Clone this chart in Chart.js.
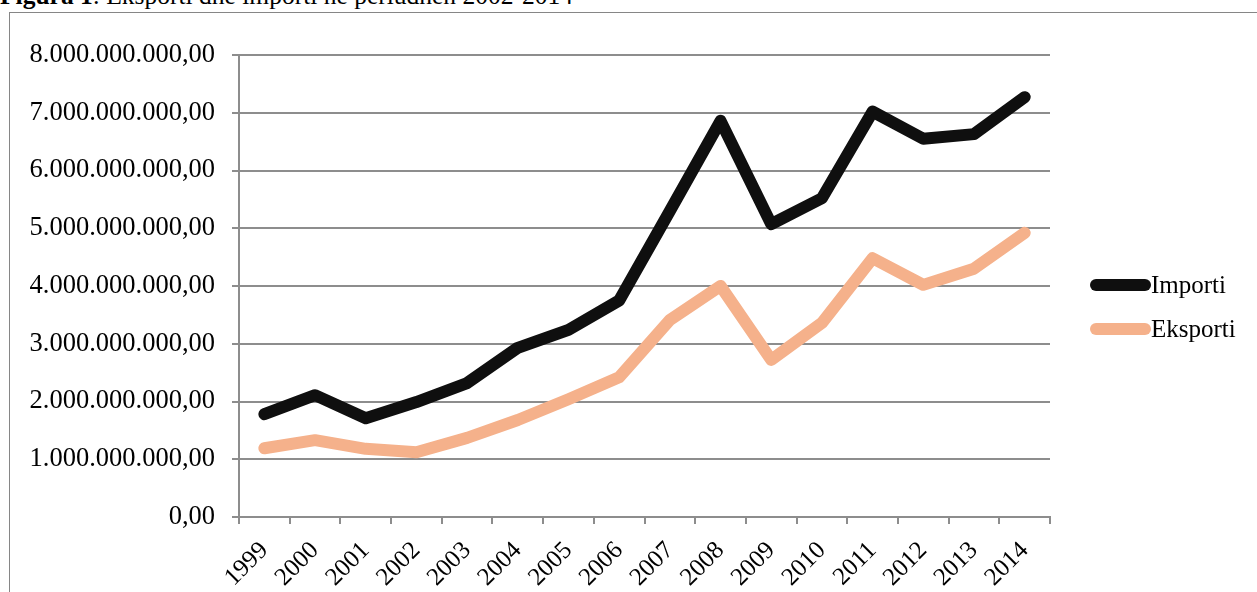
<!DOCTYPE html>
<html>
<head>
<meta charset="utf-8">
<script src="https://cdn.jsdelivr.net/npm/chart.js@4/dist/chart.umd.min.js"></script>
<style>
  html, body { margin: 0; padding: 0; background: #fff; overflow: hidden; }
  body { width: 1257px; height: 592px; position: relative; font-family: 'Liberation Serif', 'Times New Roman', serif; }
  .caption { position: absolute; left: 0; top: -17px; font-size: 25.5px; line-height: 26px; white-space: nowrap; color: #000; }
  .frame { position: absolute; left: 9px; top: 12px; width: 1300px; height: 700px; border: 1px solid #868686; }
  #chart { position: absolute; left: 0; top: 0; }
</style>
</head>
<body>
<div class="caption"><b>Figura 1</b>: Eksporti dhe importi në periudhën 2002-2014</div>
<div class="frame">
  <canvas id="chart" width="1250" height="600"></canvas>
</div>
<script>
// Të dhënat
const years = ['1999', '2000', '2001', '2002', '2003', '2004', '2005', '2006',
               '2007', '2008', '2009', '2010', '2011', '2012', '2013', '2014'];
const importi = [1.78e9, 2.11e9, 1.71e9, 1.99e9, 2.32e9, 2.93e9, 3.24e9, 3.75e9,
                 5.30e9, 6.86e9, 5.07e9, 5.52e9, 7.02e9, 6.55e9, 6.63e9, 7.27e9];
const eksporti = [1.19e9, 1.33e9, 1.18e9, 1.12e9, 1.37e9, 1.68e9, 2.04e9, 2.42e9,
                  3.41e9, 4.00e9, 2.72e9, 3.36e9, 4.48e9, 4.02e9, 4.30e9, 4.92e9];
const yMax = 8e9;
const yStep = 1e9;

const FONT = "'Liberation Serif', 'Times New Roman', serif";
const GRID = '#8d8d8d';

// 8000000000 -> "8.000.000.000,00"
function formatValue(v) {
    return Math.round(v).toString().replace(/\B(?=(\d{3})+(?!\d))/g, '.') + ',00';
}

// legjenda me vija të trasha si në Excel
const lineLegend = {
    id: 'lineLegend',
    afterDraw(chart) {
        const ctx = chart.ctx;
        const area = chart.chartArea;
        const x0 = area.right + 40;
        const midY = area.bottom - 210;
        const gap = 44;
        const items = chart.data.datasets;
        ctx.save();
        items.forEach((ds, i) => {
            const y = midY + (i - (items.length - 1) / 2) * gap;
            ctx.strokeStyle = ds.borderColor;
            ctx.lineWidth = ds.borderWidth;
            ctx.lineCap = 'round';
            ctx.beginPath();
            ctx.moveTo(x0 + 6, y);
            ctx.lineTo(x0 + 55, y);
            ctx.stroke();
            ctx.fillStyle = '#000';
            ctx.font = '25px ' + FONT;
            ctx.textBaseline = 'middle';
            ctx.textAlign = 'left';
            ctx.fillText(ds.label, x0 + 61, y + 1);
        });
        ctx.restore();
    }
};

new Chart(document.getElementById('chart'), {
    type: 'line',
    data: {
        labels: years,
        datasets: [
            {
                label: 'Importi',
                data: importi,
                borderColor: '#0f0f0f',
                borderWidth: 12,
                borderCapStyle: 'round',
                borderJoinStyle: 'round',
                pointRadius: 0,
                tension: 0
            },
            {
                label: 'Eksporti',
                data: eksporti,
                borderColor: '#f5b18b',
                borderWidth: 12,
                borderCapStyle: 'round',
                borderJoinStyle: 'round',
                pointRadius: 0,
                tension: 0
            }
        ]
    },
    options: {
        responsive: false,
        animation: false,
        // y-ticks padding i shtohet sipër; padding.top duhet > 16 + 17
        layout: { padding: { top: 42, right: 210, bottom: 0, left: 0 } },
        scales: {
            x: {
                offset: true,
                afterFit: (scale) => { scale.height = 96; },
                grid: { offset: true, drawOnChartArea: false, drawTicks: true, tickLength: 7, color: GRID, lineWidth: 2 },
                border: { color: GRID, width: 2 },
                ticks: {
                    color: '#000',
                    font: { family: FONT, size: 25 },
                    minRotation: 45,
                    maxRotation: 45,
                    autoSkip: false,
                    padding: 12
                }
            },
            y: {
                min: 0,
                max: yMax,
                afterFit: (scale) => { scale.width = 229; },
                grid: { color: GRID, lineWidth: 2, drawTicks: true, tickLength: 7 },
                border: { color: GRID, width: 2 },
                ticks: {
                    stepSize: yStep,
                    color: '#000',
                    font: { family: FONT, size: 26.5 },
                    padding: 17,
                    callback: (v) => formatValue(v)
                }
            }
        },
        plugins: {
            legend: { display: false },
            tooltip: { enabled: false }
        }
    },
    plugins: [lineLegend]
});
</script>
</body>
</html>
